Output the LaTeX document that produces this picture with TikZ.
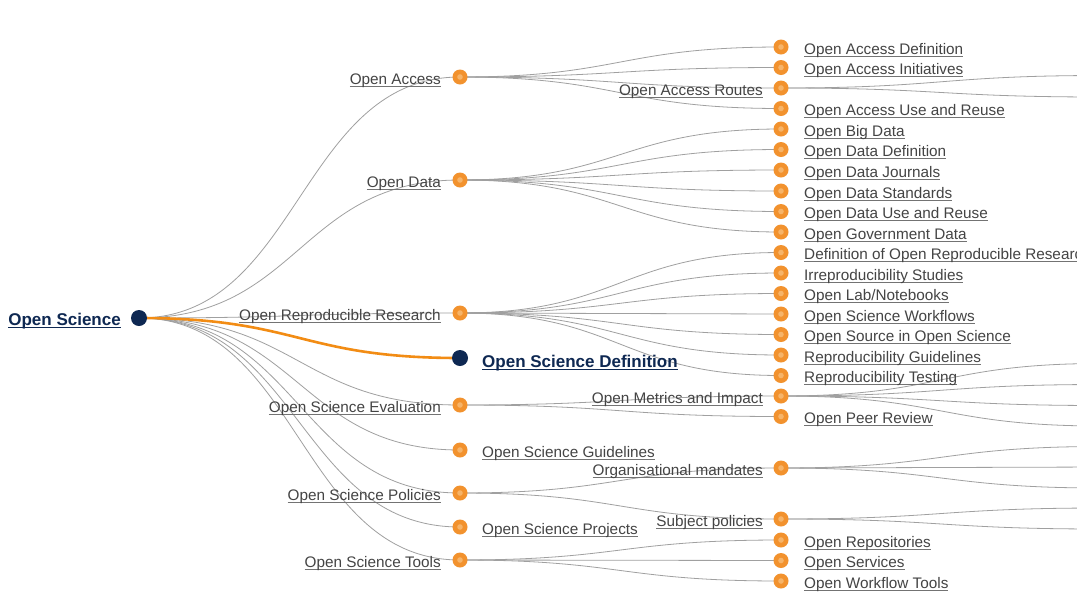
\documentclass[tikz,border=0pt]{standalone}
\usepackage{fontspec}
\setmainfont{Liberation Sans}
\usetikzlibrary{backgrounds}
\definecolor{lnkgray}{RGB}{160,160,160}
\definecolor{txtgray}{RGB}{68,68,68}
\definecolor{ulgray}{RGB}{115,115,115}
\definecolor{dotorange}{RGB}{242,146,46}
\definecolor{dotinner}{RGB}{246,180,105}
\definecolor{navy}{RGB}{14,40,82}
\definecolor{hlorange}{RGB}{242,140,20}
\newcommand\ulx[2][ulgray]{\setbox0=\hbox{#2}\rlap{\color{#1}\rule[-2.6pt]{\wd0}{0.8pt}}\box0}
\tikzset{
  link/.style={draw=lnkgray, line width=0.8pt},
  hllink/.style={draw=hlorange, line width=2.6pt},
  odot/.style={circle, fill=dotorange, minimum size=15, inner sep=0pt,
    path picture={\fill[dotinner] (path picture bounding box.center) circle (2.8);}},
  ndot/.style={circle, fill=navy, minimum size=16, inner sep=0pt},
  lab/.style={font=\fontsize{15.3}{18}\selectfont, text=txtgray, inner sep=0pt},
  labl/.style={lab, anchor=base east},
  labr/.style={lab, anchor=base west},
  blab/.style={font=\bfseries\fontsize{17}{20}\selectfont, text=navy, inner sep=0pt},
}
\newcommand\lnk[2]{\draw[link] (#1.center) .. controls +(160.5,0) and +(-160.5,0) .. (#2.center);}
\newcommand\leaf[3]{\node[odot] (#1) at (781,#2) {};
  \node[labr] (#1-t) at (804,{#2+7}) {\ulx{#3}};}
\newcommand\inl[3]{\node[odot] (#1) at (781,#2) {};
  \node[labl] (#1-t) at (763,{#2+7}) {\ulx{#3}};}
\begin{document}
\begin{tikzpicture}[x=1pt,y=-1pt]
\useasboundingbox (0,0) rectangle (1077,614);
\clip (0,0) rectangle (1077,614);
% root
\node[ndot] (root) at (139,318) {};
\node[blab, anchor=base east] (root-t) at (121,325) {\ulx[navy]{Open Science}};
% level 1
\node[odot] (oa) at (460,77) {};
\node[labl] (oa-t) at (441,84) {\ulx{Open Access}};
\node[odot] (od) at (460,180) {};
\node[labl] (od-t) at (441,187) {\ulx{Open Data}};
\node[odot] (orr) at (460,313) {};
\node[labl] (orr-t) at (441,320) {\ulx{Open Reproducible Research}};
\node[ndot] (osd) at (460,358) {};
\node[blab, anchor=base west] (osd-t) at (482,367) {\ulx[navy]{Open Science Definition}};
\node[odot] (ose) at (460,405) {};
\node[labl] (ose-t) at (441,412) {\ulx{Open Science Evaluation}};
\node[odot] (osg) at (460,450) {};
\node[labr] (osg-t) at (482,457) {\ulx{Open Science Guidelines}};
\node[odot] (ospol) at (460,493) {};
\node[labl] (ospol-t) at (441,500) {\ulx{Open Science Policies}};
\node[odot] (osproj) at (460,527) {};
\node[labr] (osproj-t) at (482,534) {\ulx{Open Science Projects}};
\node[odot] (ost) at (460,560) {};
\node[labl] (ost-t) at (441,567) {\ulx{Open Science Tools}};
% level 2
\leaf{oadef}{47}{Open Access Definition}
\leaf{oaini}{67.5}{Open Access Initiatives}
\inl{oar}{88}{Open Access Routes}
\leaf{oause}{108.5}{Open Access Use and Reuse}
\leaf{odbig}{129}{Open Big Data}
\leaf{oddef}{149.5}{Open Data Definition}
\leaf{odjou}{170}{Open Data Journals}
\leaf{odstd}{191}{Open Data Standards}
\leaf{oduse}{211.5}{Open Data Use and Reuse}
\leaf{odgov}{232}{Open Government Data}
\leaf{rrdef}{252.5}{Definition of Open Reproducible Research}
\leaf{rrirr}{273}{Irreproducibility Studies}
\leaf{rrlab}{293.5}{Open Lab/Notebooks}
\leaf{rrwf}{314}{Open Science Workflows}
\leaf{rrsrc}{334.5}{Open Source in Open Science}
\leaf{rrgui}{355}{Reproducibility Guidelines}
\leaf{rrtst}{375.5}{Reproducibility Testing}
\inl{evmet}{396}{Open Metrics and Impact}
\leaf{evpeer}{416.5}{Open Peer Review}
\inl{polorg}{468}{Organisational mandates}
\inl{polsub}{519}{Subject policies}
\leaf{trep}{540}{Open Repositories}
\leaf{tsrv}{560.5}{Open Services}
\leaf{twf}{581}{Open Workflow Tools}
% level 3 (beyond the right edge)
\coordinate (oar-a) at (1102,75.5);
\coordinate (oar-b) at (1102,97);
\coordinate (met-a) at (1102,363.5);
\coordinate (met-b) at (1102,384.5);
\coordinate (met-c) at (1102,405.5);
\coordinate (met-d) at (1102,426);
\coordinate (org-a) at (1102,446.5);
\coordinate (org-b) at (1102,467);
\coordinate (org-c) at (1102,488);
\coordinate (sub-a) at (1102,508);
\coordinate (sub-b) at (1102,529);
\begin{scope}[on background layer]
\fill[white] (0,0) rectangle (1077,614);
\draw[link] (root.center) .. controls +(160.5,0) and +(-160.5,0) .. (oa.center);
\draw[link] (root.center) .. controls +(160.5,0) and +(-160.5,0) .. (od.center);
\draw[link] (root.center) .. controls +(160.5,0) and +(-160.5,0) .. (orr.center);
\draw[link] (root.center) .. controls +(160.5,0) and +(-160.5,0) .. (ose.center);
\draw[link] (root.center) .. controls +(160.5,0) and +(-160.5,0) .. (osg.center);
\draw[link] (root.center) .. controls +(160.5,0) and +(-160.5,0) .. (ospol.center);
\draw[link] (root.center) .. controls +(160.5,0) and +(-160.5,0) .. (osproj.center);
\draw[link] (root.center) .. controls +(160.5,0) and +(-160.5,0) .. (ost.center);
\foreach \c in {oadef,oaini,oar,oause}{\lnk{oa}{\c}}
\foreach \c in {odbig,oddef,odjou,odstd,oduse,odgov}{\lnk{od}{\c}}
\foreach \c in {rrdef,rrirr,rrlab,rrwf,rrsrc,rrgui,rrtst}{\lnk{orr}{\c}}
\foreach \c in {evmet,evpeer}{\lnk{ose}{\c}}
\foreach \c in {polorg,polsub}{\lnk{ospol}{\c}}
\foreach \c in {trep,tsrv,twf}{\lnk{ost}{\c}}
\foreach \c in {oar-a,oar-b}{\draw[link] (oar.center) .. controls +(160.5,0) and +(-160.5,0) .. (\c);}
\foreach \c in {met-a,met-b,met-c,met-d}{\draw[link] (evmet.center) .. controls +(160.5,0) and +(-160.5,0) .. (\c);}
\foreach \c in {org-a,org-b,org-c}{\draw[link] (polorg.center) .. controls +(160.5,0) and +(-160.5,0) .. (\c);}
\foreach \c in {sub-a,sub-b}{\draw[link] (polsub.center) .. controls +(160.5,0) and +(-160.5,0) .. (\c);}
\draw[hllink] (root.center) .. controls +(160.5,0) and +(-160.5,0) .. (osd.center);
\end{scope}
\end{tikzpicture}
\end{document}
